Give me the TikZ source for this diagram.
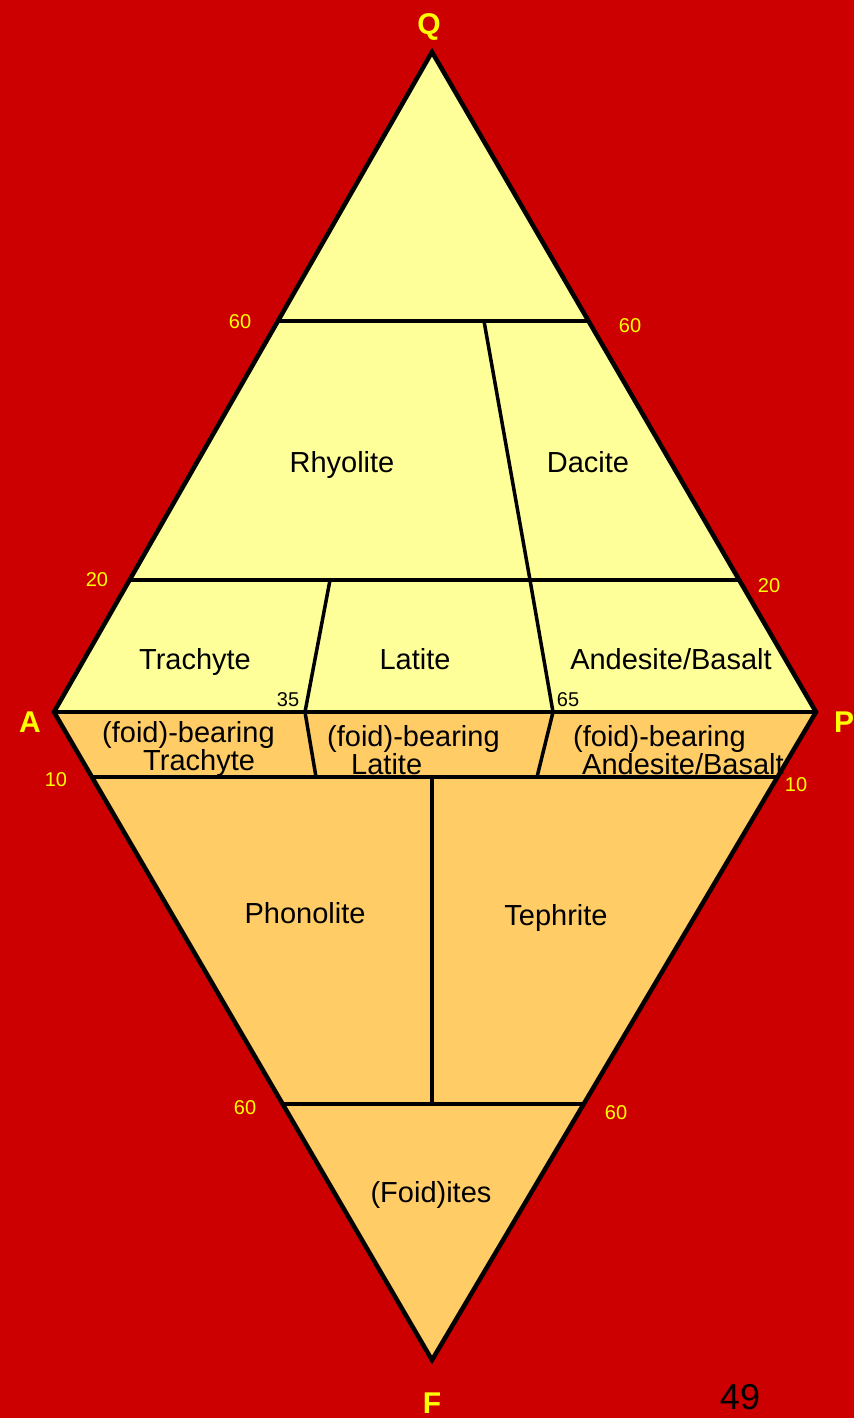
\documentclass[tikz,border=0pt]{standalone}
\usepackage{fontspec}
\setmainfont{Liberation Sans}
\usepackage{tikz}
\usetikzlibrary{calc}
\definecolor{bgred}{HTML}{CC0000}
\definecolor{qfill}{HTML}{FFFF99}
\definecolor{ffill}{HTML}{FFCC66}
\definecolor{tickyel}{HTML}{FFFF00}

\begin{document}
\begin{tikzpicture}[
            x=1pt, y=-1pt,
            outline/.style ={draw=black, line width=4.5pt, line join=miter},
            bound/.style   ={draw=black, line width=3.5pt},
            field/.style   ={font=\fontsize{29}{26}\selectfont, inner sep=0pt, text depth=0pt},
            fieldtwo/.style={font=\fontsize{29}{26}\selectfont, inner sep=0pt, align=left},
            tick/.style    ={font=\fontsize{20}{22}\selectfont, text=tickyel, inner sep=0pt},
            tickblk/.style ={font=\fontsize{20}{22}\selectfont, text=black, inner sep=0pt},
            apex/.style    ={font=\fontsize{30}{32}\selectfont\bfseries, text=tickyel, inner sep=0pt, text depth=0pt}
        ]

        % page
        \fill[bgred] (0,0) rectangle (854,1418);
        \useasboundingbox (0,0) rectangle (854,1418);

        % corners of the QAPF diamond
        \coordinate (Q) at (432,52);
        \coordinate (A) at (54,712);
        \coordinate (P) at (816,712);
        \coordinate (F) at (432,1360);

        \fill[qfill] (Q) -- (A) -- (P) -- cycle;
        \fill[ffill] (A) -- (P) -- (F) -- cycle;

        % horizontal field boundaries
        \coordinate (q60l) at (278,321);  \coordinate (q60r) at (588,321);
        \coordinate (q20l) at (130,580);  \coordinate (q20r) at (739,580);
        \coordinate (f10l) at (92,777);   \coordinate (f10r) at (777,777);
        \coordinate (f60l) at (283,1104); \coordinate (f60r) at (584,1104);
        \draw[bound] (q60l) -- (q60r);
        \draw[bound] (q20l) -- (q20r);
        \draw[bound] (A) -- (P);
        \draw[bound] (f10l) -- (f10r);
        \draw[bound] (f60l) -- (f60r);

        % sloping boundaries (P/(A+P) = 35 and 65)
        \coordinate (rd) at (484,321);
        \coordinate (c65) at (530,580);
        \coordinate (b65) at (553,712);
        \coordinate (c35) at (330,580);
        \coordinate (b35) at (305,712);
        \draw[bound] (rd) -- (c65) -- (b65) -- (537,777);
        \draw[bound] (c35) -- (b35) -- (316,777);
        \draw[bound] (432,777) -- (432,1104);

        \draw[outline] (Q) -- (A) -- (F) -- (P) -- cycle;

        % field names
        \node[field] (rhy) at (342,462) {Rhyolite};
        \node[field] (dac) at (588,462) {Dacite};
        \node[field] (tra) at (195,659) {Trachyte};
        \node[field] (lat) at (415,659) {Latite};
        \node[field] (and) at (671,659) {Andesite/Basalt};
        \node[fieldtwo, anchor=west] (ftra) at (102,749)
              {(foid)-bearing\\\hspace*{41pt}Trachyte};
        \node[fieldtwo, anchor=west] (flat) at (327,750)
              {(foid)-bearing\\\hspace*{24pt}Latite};
        \node[fieldtwo, anchor=west] (fand) at (573,750)
              {(foid)-bearing\\\hspace*{9pt}Andesite/Basalt};
        \node[field] (pho) at (305,913) {Phonolite};
        \node[field] (tep) at (556,915) {Tephrite};
        \node[field] (foi) at (431,1192) {(Foid)ites};

        % tick values
        \node[tick] (tq60l) at (240,322) {60};
        \node[tick] (tq60r) at (630,326) {60};
        \node[tick] (tq20l) at (97,580)  {20};
        \node[tick] (tq20r) at (769,586) {20};
        \node[tick] (tf10l) at (56,780)  {10};
        \node[tick] (tf10r) at (796,785) {10};
        \node[tick] (tf60l) at (245,1108) {60};
        \node[tick] (tf60r) at (616,1113) {60};
        \node[tickblk] (t35) at (288,700) {35};
        \node[tickblk] (t65) at (568,700) {65};

        % apices
        \node[apex] (lQ) at (429,24)   {Q};
        \node[apex] (lA) at (30,722)   {A};
        \node[apex] (lP) at (844,722)  {P};
        \node[apex] (lF) at (432,1403) {F};

        \node[font=\fontsize{36}{38}\selectfont, inner sep=0pt] (pg) at (740,1397) {49};

    \end{tikzpicture}
\end{document}
